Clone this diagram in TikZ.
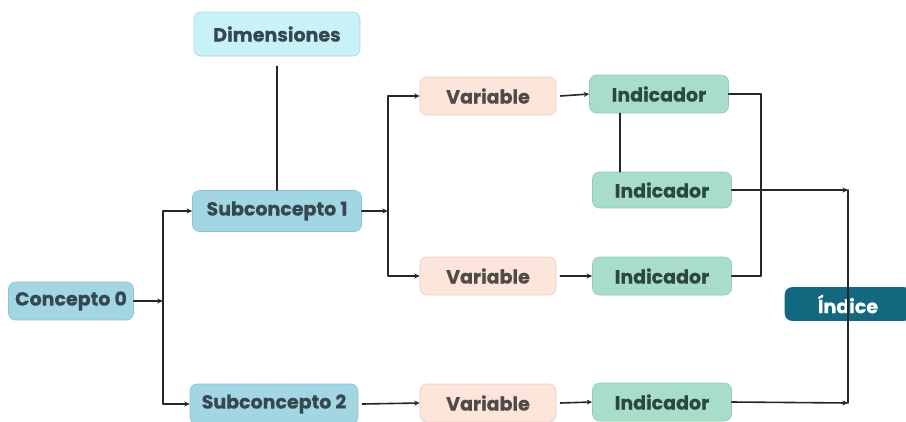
\documentclass[tikz,border=0pt]{standalone}
\usepackage{fontspec}
\setmainfont{Poppins}[BoldFeatures={FakeBold=0.5}]
\usetikzlibrary{arrows.meta}
\definecolor{txtgray}{HTML}{36484F}
\definecolor{vartxt}{HTML}{524A47}
\definecolor{indtxt}{HTML}{2D4842}
\definecolor{conceptfill}{HTML}{A2D6E2}
\definecolor{conceptline}{HTML}{8CC3D0}
\definecolor{dimfill}{HTML}{C9F1F8}
\definecolor{dimline}{HTML}{A6D6E0}
\definecolor{varfill}{HTML}{FCE5DB}
\definecolor{varline}{HTML}{E9D0C5}
\definecolor{indfill}{HTML}{A8DEC9}
\definecolor{indline}{HTML}{8FCBB4}
\definecolor{idxfill}{HTML}{12697F}
\tikzset{
  box/.style={rounded corners=7pt, line width=0.6pt, inner sep=0pt,
    minimum height=38pt, text=txtgray, font=\fontsize{19}{21}\selectfont\bfseries},
  concept/.style={box, fill=conceptfill, draw=conceptline},
  dimbox/.style={box, fill=dimfill, draw=dimline},
  varbox/.style={box, fill=varfill, draw=varline, text=vartxt, minimum width=136pt},
  indbox/.style={box, fill=indfill, draw=indline, text=indtxt, minimum width=139pt},
  idxbox/.style={box, fill=idxfill, draw=idxfill, text=white, minimum height=33pt},
  link/.style={line width=1.6pt, draw=black!85},
  arr/.style={link, -{Stealth[length=5.5pt,width=5pt]}}
}
\begin{document}
\begin{tikzpicture}[x=1pt,y=-1pt,line cap=round,line join=round]
\useasboundingbox (0,0) rectangle (906,421);
% concept boxes
\node[concept, minimum width=125pt] (c0) at (71,301) {Concepto 0};
\node[dimbox, minimum width=166pt, minimum height=44pt] (dim) at (277,34) {Dimensiones};
\node[concept, minimum width=169pt, minimum height=41pt] (s1) at (277,211) {Subconcepto 1};
\node[concept, minimum width=168pt, minimum height=40pt] (s2) at (274,404) {Subconcepto 2};
% variables and indicators
\node[varbox] (v1) at (488,96) {Variable};
\node[varbox] (v2) at (488,276) {Variable};
\node[varbox] (v3) at (488,403) {Variable};
\node[indbox] (i1) at (659,94) {Indicador};
\node[indbox, minimum height=36pt] (i2) at (662,190) {Indicador};
\node[indbox] (i3) at (662,276) {Indicador};
\node[indbox] (i4) at (662,402) {Indicador};
\node[idxbox, minimum width=126pt] (idx) at (848,304) {Índice};
% junction points
\coordinate (j3) at (848,190);
\coordinate (j4) at (848,403);
% connectors
\draw[arr] (c0.east) -- ++(29,0) coordinate (j0);
\draw[arr] (j0) |- (s1.west);
\draw[arr] (j0) |- (s2.west);
\draw[link] ([yshift=-10pt]dim.south) -- (s1.north);
\draw[arr] (s1.east) -- ++(26,0) coordinate (j1);
\draw[arr] (j1) |- (v1.west);
\draw[arr] (j1) |- (v2.west);
\draw[arr] ([xshift=4pt]v1.east) -- (i1.west);
\draw[arr] ([xshift=4pt]v2.east) -- (i3.west);
\draw[arr] ([xshift=4pt]s2.east) -- (v3.west);
\draw[arr] ([xshift=4pt]v3.east) -- (i4.west);
\draw[link] ([xshift=-39pt]i1.south) -- ([xshift=-39pt]i1.south |- i2.north);
\draw[link] (i1.east) -- ++(32,0) coordinate (k1) |- (i3.east);
\draw[arr] (i2.east) -- (j3);
\draw[arr] (i4.east) -- (j4);
\draw[link] (j3) -- (j4);
\end{tikzpicture}
\end{document}
